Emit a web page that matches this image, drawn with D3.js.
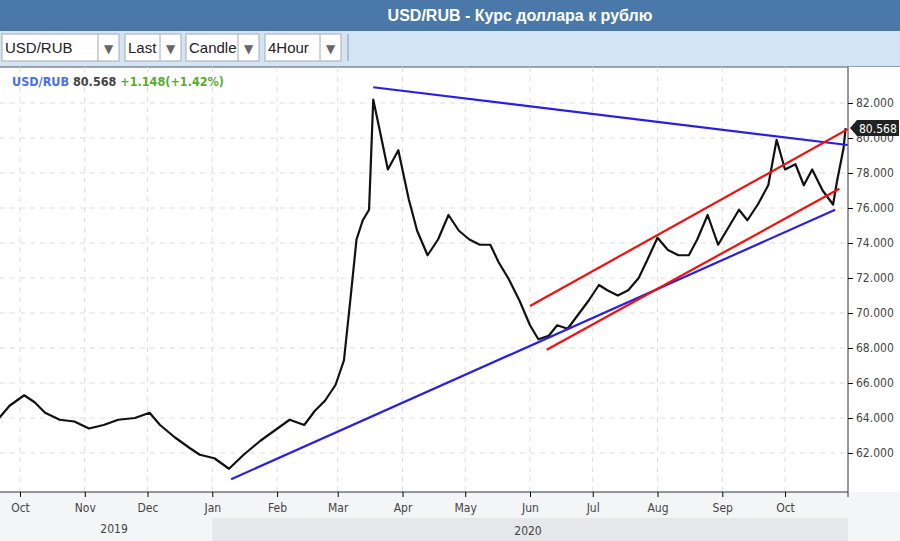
<!DOCTYPE html>
<html><head><meta charset="utf-8">
<script src="https://cdn.jsdelivr.net/npm/d3@7/dist/d3.min.js"></script>
<style>body{margin:0;background:#fff}svg{display:block;font-family:"DejaVu Sans",sans-serif}</style>
</head><body><svg id="c" width="900" height="541"></svg>
<script>
const dates=["2019-09-21","2019-09-26","2019-10-03","2019-10-08","2019-10-13","2019-10-20","2019-10-27","2019-11-03","2019-11-10","2019-11-17","2019-11-25","2019-12-02","2019-12-07","2019-12-14","2019-12-21","2019-12-26","2020-01-02","2020-01-09","2020-01-16","2020-01-24","2020-01-31","2020-02-07","2020-02-14","2020-02-19","2020-02-24","2020-02-29","2020-03-04","2020-03-07","2020-03-10","2020-03-13","2020-03-16","2020-03-18","2020-03-21","2020-03-25","2020-03-30","2020-04-04","2020-04-08","2020-04-13","2020-04-18","2020-04-23","2020-04-28","2020-05-03","2020-05-08","2020-05-13","2020-05-17","2020-05-22","2020-05-27","2020-06-01","2020-06-05","2020-06-10","2020-06-14","2020-06-19","2020-06-24","2020-06-29","2020-07-04","2020-07-08","2020-07-13","2020-07-18","2020-07-23","2020-07-27","2020-08-01","2020-08-06","2020-08-11","2020-08-16","2020-08-20","2020-08-25","2020-08-30","2020-09-04","2020-09-09","2020-09-13","2020-09-18","2020-09-23","2020-09-27","2020-10-01","2020-10-06","2020-10-10","2020-10-14","2020-10-19","2020-10-24","2020-10-26","2020-10-29","2020-10-30"];
const closes=[64.0,64.7,65.3,64.9,64.3,63.9,63.8,63.4,63.6,63.9,64.0,64.3,63.6,62.9,62.3,61.9,61.7,61.1,61.9,62.7,63.3,63.9,63.6,64.4,65.0,65.9,67.3,70.7,74.2,75.3,75.9,82.2,80.5,78.2,79.3,76.5,74.7,73.3,74.2,75.6,74.7,74.2,73.9,73.9,72.9,71.9,70.7,69.3,68.5,68.7,69.3,69.1,69.9,70.7,71.6,71.3,71.0,71.3,72.0,73.0,74.3,73.6,73.3,73.3,74.2,75.6,73.9,74.9,75.9,75.3,76.2,77.3,79.9,78.2,78.5,77.3,78.2,77.0,76.2,77.6,79.4,80.57];
const yTicks=[62,64,66,68,70,72,74,76,78,80,82];
const monthTicks=["2019-10-01","2019-11-01","2019-12-01","2020-01-01","2020-02-01","2020-03-01","2020-04-01","2020-05-01","2020-06-01","2020-07-01","2020-08-01","2020-09-01","2020-10-01"];
const blueLines=[[["2020-03-18",82.9],["2020-10-31",79.6]],[["2020-01-10",60.5],["2020-10-25",75.9]]];
const redLines=[[["2020-06-01",70.4],["2020-10-31",80.5]],[["2020-06-09",67.9],["2020-10-27",77.1]]];
const lastPrice="80.568";

const P=d3.timeParse("%Y-%m-%d");
const svg=d3.select("#c");
const x=d3.scaleTime().domain([P("2019-10-01"),P("2020-10-01")]).range([20,785]);
const y=d3.scaleLinear().domain([62,82]).range([453,103]);
const pTop=67,bot=492,right=848;
svg.append("rect").attr("width",900).attr("height",31).attr("fill","#4a79a9");
svg.append("text").attr("x",520).attr("y",21).attr("text-anchor","middle").attr("fill","#fff").attr("font-weight","bold").attr("font-size",16).attr("font-family","Liberation Sans, Arial").text("USD/RUB - Курс доллара к рублю");
svg.append("rect").attr("y",31).attr("width",900).attr("height",36).attr("fill","#d3e4f6");
const dd=[["USD/RUB",2,117],["Last",125,56],["Candle",186,73],["4Hour",265,76]];
dd.forEach(([t,x0,w])=>{
  const g=svg.append("g");
  g.append("rect").attr("x",x0).attr("y",34).attr("width",w).attr("height",27).attr("fill","#fff").attr("stroke","#aaa");
  g.append("line").attr("x1",x0+w-21).attr("x2",x0+w-21).attr("y1",34).attr("y2",61).attr("stroke","#aaa");
  g.append("text").attr("x",x0+3).attr("y",53).attr("font-size",15).attr("font-family","Liberation Sans, Arial").attr("fill","#222").text(t);
  g.append("text").attr("x",x0+w-10.5).attr("y",53).attr("text-anchor","middle").attr("font-size",12).attr("fill","#666").text("▼");
});
svg.append("line").attr("x1",348).attr("x2",348).attr("y1",34).attr("y2",61).attr("stroke","#999");
svg.append("line").attr("x1",0).attr("x2",900).attr("y1",67).attr("y2",67).attr("stroke","#555");
svg.append("rect").attr("y",bot).attr("width",900).attr("height",541-bot).attr("fill","#f4f5f7");
svg.append("rect").attr("x",x(P("2020-01-01"))).attr("y",518).attr("width",right-x(P("2020-01-01"))).attr("height",23).attr("fill","#e6e7ea");
svg.append("rect").attr("x",right).attr("y",pTop).attr("width",900-right).attr("height",bot-pTop).attr("fill","#fff");
const g=svg.append("g");
yTicks.forEach(v=>g.append("line").attr("x1",0).attr("x2",right).attr("y1",y(v)).attr("y2",y(v)).attr("stroke","#ddd").attr("stroke-dasharray","5,5"));
monthTicks.forEach(d=>g.append("line").attr("x1",x(P(d))).attr("x2",x(P(d))).attr("y1",pTop).attr("y2",bot).attr("stroke","#ddd").attr("stroke-dasharray","5,5"));
const ya=svg.append("g").attr("transform",`translate(${right},0)`).call(d3.axisRight(y).tickValues(yTicks).tickSize(5).tickFormat(d3.format(".3f")));
ya.select(".domain").attr("d",`M0,${pTop}V${bot}`).attr("stroke","#333");
ya.selectAll("text").attr("font-size",12).attr("fill","#444").attr("font-family","DejaVu Sans Condensed, DejaVu Sans");
const xa=svg.append("g").attr("transform",`translate(0,${bot})`).call(d3.axisBottom(x).tickValues(monthTicks.map(P)).tickSize(5).tickFormat(d3.timeFormat("%b")));
xa.select(".domain").attr("d",`M0,0H${right}V5`).attr("stroke","#333");
xa.selectAll("text").attr("font-size",12).attr("fill","#444").attr("dy","1.0em").attr("font-family","DejaVu Sans Condensed, DejaVu Sans");
svg.append("text").attr("x",x(P("2019-11-15"))).attr("y",533).attr("text-anchor","middle").attr("font-size",12).attr("fill","#444").attr("font-family","DejaVu Sans Condensed").text("2019");
svg.append("text").attr("x",528).attr("y",535).attr("text-anchor","middle").attr("font-size",12).attr("fill","#444").attr("font-family","DejaVu Sans Condensed").text("2020");
svg.append("clipPath").attr("id","cp").append("rect").attr("x",0).attr("y",pTop).attr("width",right).attr("height",bot-pTop);
const pg=svg.append("g").attr("clip-path","url(#cp)");
const data=dates.map((d,i)=>({d:P(d),c:closes[i]}));
pg.append("path").datum(data).attr("fill","none").attr("stroke","#111").attr("stroke-width",2.2).attr("stroke-linejoin","round")
 .attr("d",d3.line().x(d=>x(d.d)).y(d=>y(d.c)));
const tl=(arr,col)=>arr.forEach(l=>pg.append("line").attr("x1",x(P(l[0][0]))).attr("y1",y(l[0][1])).attr("x2",x(P(l[1][0]))).attr("y2",y(l[1][1])).attr("stroke",col).attr("stroke-width",2.2));
tl(blueLines,"#2a1fe0");tl(redLines,"#f01010");
const ly=y(+lastPrice);
svg.append("path").attr("d",`M${right+2},${ly}L${right+9},${ly-8}H899V${ly+8}H${right+9}Z`).attr("fill","#222");
svg.append("text").attr("x",right+11).attr("y",ly+4.5).attr("fill","#fff").attr("font-size",12).attr("font-family","DejaVu Sans Condensed").text(lastPrice);
const t=svg.append("text").attr("x",12).attr("y",86).attr("font-size",12.5).attr("font-weight","bold").attr("font-family","DejaVu Sans Condensed, DejaVu Sans");
t.append("tspan").attr("fill","#4a6fe8").text("USD/RUB ");
t.append("tspan").attr("fill","#444").text("80.568 ");
t.append("tspan").attr("fill","#5aa832").text("+1.148(+1.42%)");
</script></body></html>
